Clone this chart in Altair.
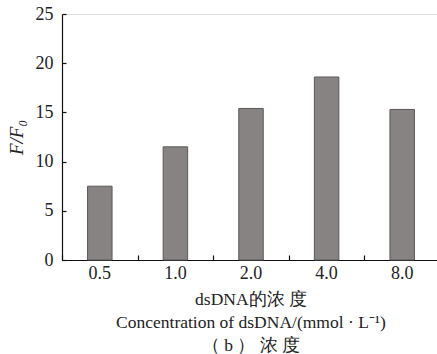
import altair as alt
import pandas as pd

# dsDNA concentration (categories) and relative fluorescence F/F0
concentrations = ["0.5", "1.0", "2.0", "4.0", "8.0"]
ratios = [7.5, 11.5, 15.4, 18.6, 15.3]

df = pd.DataFrame({"conc": concentrations, "ratio": ratios})

SERIF = "Liberation Serif"
PLOT_W = 375
PLOT_H = 246
STEP_RANGE = 378

x_scale = alt.Scale(domain=concentrations, range=[0, STEP_RANGE],
                    paddingInner=0.676, paddingOuter=0.338)
# same categories without padding, so band extents fall between the bars
x_step_scale = alt.Scale(domain=concentrations, range=[0, STEP_RANGE],
                         paddingInner=0, paddingOuter=0)
y_scale = alt.Scale(domain=[0, 25], nice=False)

bars = alt.Chart(df).mark_bar(
    color="#878383", stroke="#5c5858", strokeWidth=1
).encode(
    x=alt.X("conc:N", scale=x_scale, sort=concentrations,
            axis=alt.Axis(
                title=["dsDNA的浓 度",
                       "Concentration of dsDNA/(mmol · L⁻¹)",
                       "（ b ） 浓 度"],
                titleFont=SERIF, titleFontSize=17.5, titleFontWeight="normal",
                titleColor="#222", titleLineHeight=23, titlePadding=8,
                titleX=PLOT_W / 2 + 1,
                labelFont=SERIF, labelFontSize=18, labelColor="#222",
                labelAngle=0, labelPadding=4,
                ticks=False, domainColor="#111", domainWidth=1.2,
            )),
    y=alt.Y("ratio:Q", scale=y_scale,
            axis=alt.Axis(
                title="F/F₀", titleFont=SERIF, titleFontSize=19,
                titleFontStyle="italic", titleFontWeight="normal",
                titleColor="#222", titlePadding=9,
                values=[0, 5, 10, 15, 20, 25],
                labelFont=SERIF, labelFontSize=18, labelColor="#222",
                labelPadding=9, ticks=False, grid=False,
                domainColor="#111", domainWidth=1.2,
            )),
)

# Inward-pointing tick marks drawn by mirrored axes
ticks = alt.Chart(df).mark_bar(opacity=0).encode(
    x=alt.X("conc:N", scale=x_step_scale, sort=concentrations,
            axis=alt.Axis(orient="top", offset=-PLOT_H, title=None,
                          labels=False, domain=False, ticks=True,
                          tickSize=5, tickBand="extent", tickColor="#111",
                          tickWidth=1.2)),
    y=alt.Y("ratio:Q", scale=y_scale,
            axis=alt.Axis(orient="right", offset=-PLOT_W, title=None,
                          values=[0, 5, 10, 15, 20, 25],
                          labels=False, domain=False, grid=False,
                          ticks=True, tickSize=4, tickColor="#111",
                          tickWidth=1.2)),
)

chart = alt.layer(bars, ticks).resolve_scale(
    x="independent"
).resolve_axis(
    x="independent", y="independent"
).properties(
    width=PLOT_W, height=PLOT_H,
    autosize="none",
    padding={"left": 62, "top": 14, "right": 0, "bottom": 94},
).configure_view(stroke=None).configure(background="white", font=SERIF)

chart.save("out.html", embed_options={"renderer": "svg", "actions": False})
